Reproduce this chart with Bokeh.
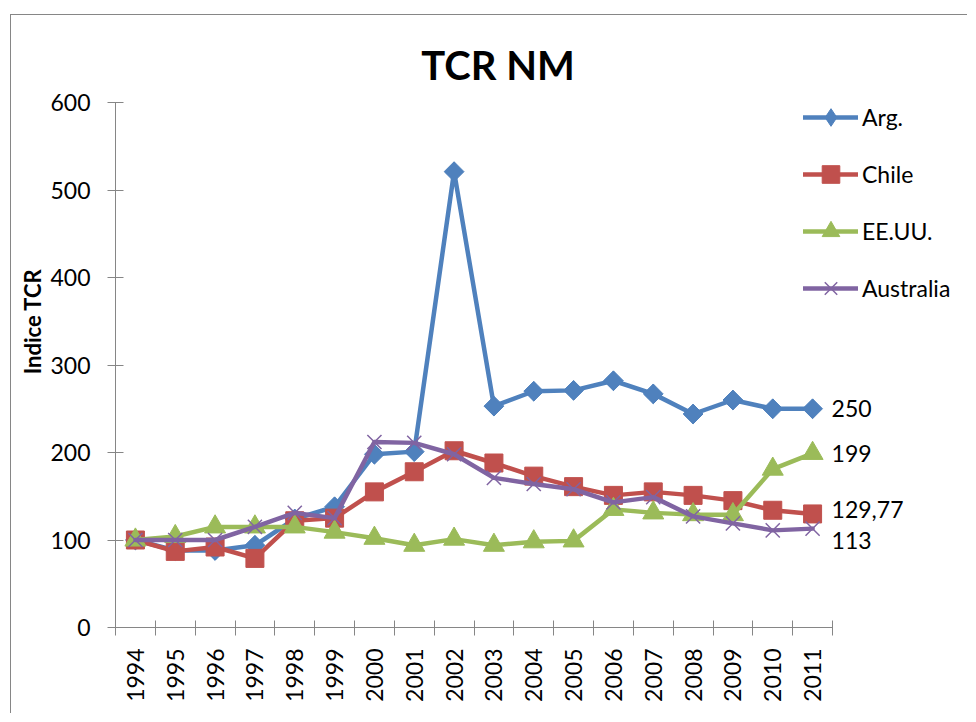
import numpy as np
from bokeh.plotting import figure
from bokeh.models import (Range1d, FixedTicker, ColumnDataSource, LabelSet, Label,
                          Legend, LegendItem, InlineStyleSheet)
from bokeh.core.properties import value
from bokeh.embed import file_html
from bokeh.resources import INLINE

# ---------------- data ----------------
years = list(range(1994, 2012))
year_labels = [str(y) for y in years]

arg = [100, 88, 88, 94, 124, 138, 198, 201, 521, 253, 270, 271, 282, 267, 244, 260, 250, 250]
chile = [100, 87, 92, 79, 122, 125, 155, 178, 202, 188, 173, 161, 151, 155, 151, 145, 134, 129.77]
eeuu = [100, 104, 115, 115, 115, 109, 102, 94, 101, 94, 98, 99, 135, 131, 129, 129, 181, 199]
australia = [100, 100, 100, 115, 131, 125, 212, 211, 198, 171, 164, 158, 143, 149, 127, 119, 111, 113]

series_names = ["Arg.", "Chile", "EE.UU.", "Australia"]
end_labels = ["250", "129,77", "199", "113"]
y_ticks = [0, 100, 200, 300, 400, 500, 600]

# ---------------- layout (page pixels) ----------------
FONT = "Lato"
AXIS = "#868686"
colors = ["#4F81BD", "#C0504D", "#9BBB59", "#8064A2"]

OX, OY = 11, 15            # page position of canvas (css margin + 1px border)
W, H = 957, 699
AX_L, AX_R = 115, 832      # x-axis extent on page
AX_T, AX_B = 102, 627      # y-axis extent on page (600 .. 0)
x0, x1 = years[0] - 0.5, years[-1] + 0.5
y0, y1 = y_ticks[0], y_ticks[-1]
px_per_x = (AX_R - AX_L) / (x1 - x0)
px_per_y = (AX_B - AX_T) / (y1 - y0)
frame_right = OX + W
frame_top = OY
x_end = x0 + (frame_right - AX_L) / px_per_x
y_end = y0 + (AX_B - frame_top) / px_per_y

p = figure(width=W, height=H, output_backend="svg", toolbar_location=None, title=None,
           x_range=Range1d(x0, x_end), y_range=Range1d(y0, y_end),
           min_border_left=AX_L - OX, min_border_right=0, min_border_top=0,
           min_border_bottom=H - (AX_B - OY))
p.stylesheets = [InlineStyleSheet(css=":host { margin-left: 10px; margin-top: 14px; "
                                      "border-left: 1px solid #868686; border-top: 1px solid #868686; }")]
p.outline_line_color = None
p.background_fill_color = "white"
p.border_fill_color = "white"
p.xgrid.visible = False
p.ygrid.visible = False

# x axis: labels at categories, tick marks between categories
p.xaxis.bounds = (x0, x1)
p.xaxis.ticker = FixedTicker(ticks=years, minor_ticks=[y - 0.5 for y in years] + [x1])
p.xaxis.major_label_overrides = {y: s for y, s in zip(years, year_labels)}
p.xaxis.major_tick_out = 0
p.xaxis.major_tick_in = 0
p.xaxis.minor_tick_out = 8
p.xaxis.minor_tick_in = 7
p.xaxis.minor_tick_line_color = AXIS
p.xaxis.axis_line_color = AXIS
p.xaxis.major_label_orientation = np.pi / 2
p.xaxis.major_label_standoff = 13
p.xaxis.major_label_text_font = FONT
p.xaxis.major_label_text_font_size = "23px"
p.xaxis.major_label_text_color = "black"

# y axis
p.yaxis.bounds = (y0, y1)
p.yaxis.ticker = FixedTicker(ticks=y_ticks, minor_ticks=[])
p.yaxis.major_tick_out = 8
p.yaxis.major_tick_in = 8
p.yaxis.major_tick_line_color = AXIS
p.yaxis.axis_line_color = AXIS
p.yaxis.major_label_standoff = 17
p.yaxis.major_label_text_font = FONT
p.yaxis.major_label_text_font_size = "23px"
p.yaxis.major_label_text_color = "black"
p.yaxis.axis_label = "Indice TCR"
p.yaxis.axis_label_text_font = FONT
p.yaxis.axis_label_text_font_size = "22px"
p.yaxis.axis_label_text_font_style = "bold"
p.yaxis.axis_label_text_color = "black"
p.yaxis.axis_label_standoff = 1

# ---------------- series ----------------
# (marker used in the legend key, marker drawn on top in the plot or None)
markers = [(dict(marker="diamond", size=19), dict(marker="square", size=14, angle=np.pi / 4)),
           (dict(marker="square", size=18), None),
           (dict(marker="triangle", size=21), None),
           (dict(marker="x", size=20, line_width=1.5), None)]

items = []
for name, vals, col, (key_mk, top_mk) in zip(series_names, [arg, chile, eeuu, australia],
                                             colors, markers):
    src = ColumnDataSource(dict(x=years, y=vals))
    lr = p.line("x", "y", source=src, line_color=col, line_width=4.5,
                line_join="round", line_cap="round")
    kmk = dict(key_mk)
    lw = kmk.pop("line_width", 1)
    kr = p.scatter("x", "y", source=src, fill_color=col, line_color=col, line_width=lw, **kmk)
    if top_mk is not None:
        p.scatter("x", "y", source=src, fill_color=col, line_color=col, line_width=1, **top_mk)
    items.append(LegendItem(label=name, renderers=[lr, kr]))

# legend: top-left of its box at page (803, 95)
leg_rows, leg_row_h, leg_gap = 4, 44, 13
leg_h = leg_rows * leg_row_h + (leg_rows - 1) * leg_gap
legend = Legend(items=items, location=(803 - AX_L, AX_B - (95 + leg_h)), orientation="vertical",
                glyph_width=55, glyph_height=leg_row_h, label_height=leg_row_h, spacing=leg_gap,
                padding=0, margin=0, border_line_color=None, background_fill_alpha=0,
                label_text_font=FONT, label_text_font_size="23px", label_standoff=4,
                label_text_color="black")
p.add_layout(legend)

# ---------------- end-of-series data labels ----------------
last_vals = [arg[-1], chile[-1], eeuu[-1], australia[-1]]
lab_src = ColumnDataSource(dict(x=[years[-1]] * 4, y=last_vals, text=end_labels,
                                dy=[0, 4, 0, -12]))
p.add_layout(LabelSet(x="x", y="y", text="text", source=lab_src, x_offset=19, y_offset="dy",
                      text_align="left", text_baseline="middle",
                      text_font=value(FONT), text_font_size="23px", text_color="black"))

# ---------------- title ----------------
p.add_layout(Label(x=497.5 - AX_L, y=AX_B - 64, x_units="screen", y_units="screen", text="TCR NM",
                   text_align="center", text_baseline="middle", text_font=FONT,
                   text_font_size="40px", text_font_style="bold", text_color="black"))

open("out.html", "w").write(file_html(p, INLINE))
